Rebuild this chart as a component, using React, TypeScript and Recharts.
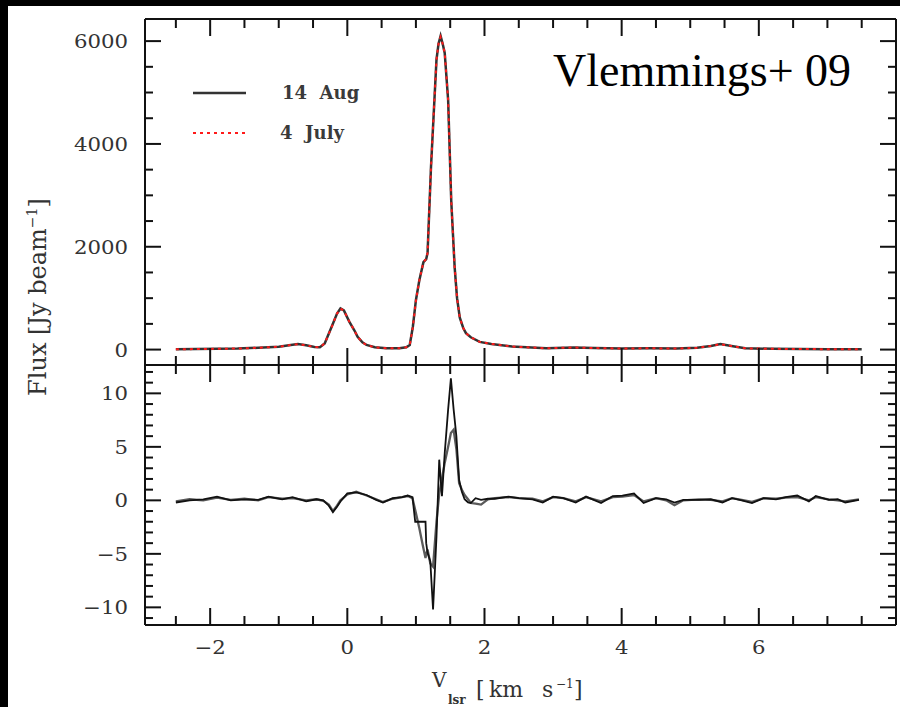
import React from "react";
import { LineChart, Line, XAxis, YAxis, Legend } from "recharts";

// velocity grid for the spectra (km/s)
const vUp = [
  -2.5, -2.2, -1.9, -1.6, -1.3, -1.0, -0.85, -0.72, -0.6, -0.48,
  -0.4, -0.33, -0.23, -0.15, -0.1, -0.05, 0.03, 0.1, 0.15, 0.22,
  0.28, 0.4, 0.57, 0.76, 0.86, 0.91, 0.955, 1.0, 1.05, 1.11,
  1.15, 1.17, 1.22, 1.26, 1.3, 1.33, 1.36, 1.39, 1.42, 1.47,
  1.515, 1.565, 1.6, 1.64, 1.69, 1.73, 1.8, 1.93, 2.1, 2.4,
  2.9, 3.3, 3.6, 4.0, 4.4, 4.8, 5.1, 5.3, 5.44, 5.6,
  5.8, 6.2, 6.6, 7.0, 7.5,
];
const aug14 = [
  5, 10, 15, 20, 35, 55, 85, 110, 85, 50,
  45, 120, 440, 700, 800, 760, 540, 380, 250, 140,
  90, 45, 25, 25, 45, 90, 440, 960, 1350, 1700,
  1760, 1880, 3550, 4600, 5640, 5950, 6100, 5950, 5770, 4850,
  2900, 1600, 1000, 620, 420, 320, 240, 150, 110, 60,
  25, 40, 30, 20, 25, 20, 35, 70, 110, 70,
  25, 15, 10, 8, 5,
];
const july4 = [
  5, 10, 15, 20, 35, 55, 85, 105, 85, 50,
  45, 120, 430, 700, 795, 760, 540, 380, 250, 140,
  90, 45, 25, 25, 45, 90, 430, 950, 1350, 1700,
  1760, 1880, 3550, 4600, 5640, 5950, 6080, 5950, 5770, 4850,
  2900, 1600, 1000, 620, 420, 320, 240, 150, 110, 60,
  25, 40, 30, 20, 25, 20, 35, 70, 105, 70,
  25, 15, 10, 8, 5,
];

const vLow = [
  -2.5, -2.3, -2.1, -1.9, -1.7, -1.5, -1.3, -1.15, -0.95, -0.8,
  -0.6, -0.45, -0.35, -0.27, -0.21, -0.15, -0.1, 0.0, 0.13, 0.28,
  0.42, 0.52, 0.66, 0.8, 0.88, 0.95, 0.99, 1.05, 1.1, 1.14,
  1.15, 1.17, 1.21, 1.25, 1.3, 1.34, 1.38, 1.42, 1.47, 1.51,
  1.55, 1.59, 1.63, 1.67, 1.71, 1.76, 1.8, 1.87, 1.95, 2.05,
  2.15, 2.35, 2.5, 2.7, 2.85, 3.0, 3.15, 3.33, 3.48, 3.7,
  3.87, 4.01, 4.18, 4.32, 4.5, 4.65, 4.77, 4.9, 5.13, 5.3,
  5.47, 5.61, 5.75, 5.9, 6.07, 6.25, 6.39, 6.56, 6.73, 6.83,
  7.02, 7.15, 7.26, 7.46,
];
const diffBlack = [
  -0.2, 0.0, 0.1, 0.35, 0.0, 0.1, 0.05, 0.35, 0.1, 0.3,
  -0.1, 0.1, 0.0, -0.5, -1.1, -0.6, -0.1, 0.65, 0.75, 0.5,
  0.05, -0.2, 0.2, 0.3, 0.45, 0.3, -2.0, -2.0, -2.0, -2.0,
  -4.0, -4.9, -5.7, -10.2, -3.4, 3.8, 0.4, 4.4, 8.5, 11.4,
  8.5, 6.0, 1.9, 0.8, 0.1, -0.2, -0.25, 0.2, 0.05, 0.15,
  0.15, 0.35, 0.2, 0.1, -0.2, 0.35, 0.2, -0.2, 0.35, -0.25,
  0.4, 0.45, 0.65, -0.25, 0.2, 0.1, -0.2, 0.05, 0.05, 0.1,
  -0.2, 0.2, 0.0, -0.25, 0.2, 0.1, 0.3, 0.45, -0.1, 0.4,
  0.05, 0.1, -0.2, 0.05,
];
const diffGrey = [
  -0.1, 0.1, 0.0, 0.25, 0.05, 0.15, 0.0, 0.3, 0.15, 0.2,
  0.0, 0.1, -0.05, -0.4, -1.0, -0.5, 0.0, 0.55, 0.8, 0.45,
  0.1, -0.15, 0.15, 0.3, 0.4, 0.2, -0.9, -2.6, -4.2, -5.4,
  -5.0, -4.6, -5.9, -6.2, -2.0, 0.6, 2.0, 3.5, 5.0, 6.3,
  6.6, 4.8, 1.6, 1.0, 0.5, 0.1, -0.25, -0.3, -0.4, 0.1,
  0.2, 0.3, 0.2, 0.15, -0.1, 0.3, 0.2, -0.1, 0.3, -0.1,
  0.3, 0.35, 0.5, -0.1, 0.2, 0.0, -0.45, 0.0, 0.1, 0.05,
  -0.1, 0.2, 0.05, -0.15, 0.2, 0.15, 0.25, 0.3, 0.0, 0.3,
  0.1, 0.0, -0.1, 0.1,
];

// axis ticks
const xTicks = [-2.5, -2, -1.5, -1, -0.5, 0, 0.5, 1, 1.5, 2, 2.5, 3, 3.5, 4, 4.5, 5, 5.5, 6, 6.5, 7, 7.5];
const xMajor = [-2, 0, 2, 4, 6];
const upTicks = [0, 500, 1000, 1500, 2000, 2500, 3000, 3500, 4000, 4500, 5000, 5500, 6000];
const upMajor = [0, 2000, 4000, 6000];
const lowTicks = [-11, -10, -9, -8, -7, -6, -5, -4, -3, -2, -1, 0, 1, 2, 3, 4, 5, 6, 7, 8, 9, 10, 11, 12];
const lowMajor = [-10, -5, 0, 5, 10];

const X_DOMAIN = [-2.95, 8];
const UP_DOMAIN = [-300, 6430];
const LOW_DOMAIN = [-11.65, 12.65];

const upData = vUp.map((v, i) => ({ v, aug: aug14[i], jul: july4[i] }));
const lowData = vLow.map((v, i) => ({ v, a: diffBlack[i], b: diffGrey[i] }));

const INK = "#111";
const TEXT = "#333";
const SERIF = '"DejaVu Serif", serif';

const fmt = (v: number) => (v < 0 ? "\u2212" + Math.abs(v) : String(v));

// inward ticks; dir is the direction the tick points into the frame
const xTick = (major: number[], dir: number, label: boolean) => (p: any) => {
  const v = p.payload.value;
  const big = major.includes(v);
  return (
    <g>
      <line x1={p.x} x2={p.x} y1={p.y} y2={p.y + dir * (big ? 17 : 9)} stroke={INK} strokeWidth={2} />
      {label && big && (
        <text transform={`translate(${p.x},${p.y + 29}) scale(1.12,1)`} textAnchor="middle"
          fontFamily={SERIF} fontSize={19} fill={TEXT}>{fmt(v)}</text>
      )}
    </g>
  );
};

const yTick = (major: number[], dir: number, label: boolean) => (p: any) => {
  const v = p.payload.value;
  const big = major.includes(v);
  return (
    <g>
      <line x1={p.x} x2={p.x + dir * (big ? 16 : 8)} y1={p.y} y2={p.y} stroke={INK} strokeWidth={2} />
      {label && big && (
        <text transform={`translate(${p.x - 17},${p.y + 7}) scale(1.12,1)`} textAnchor="end"
          fontFamily={SERIF} fontSize={19} fill={TEXT}>{fmt(v)}</text>
      )}
    </g>
  );
};

const axisLine = { stroke: INK, strokeWidth: 2 };

const renderLegend = (props: any) => (
  <svg width={200} height={72}>
    {(props.payload || []).map((e: any, i: number) => {
      const y = 18 + i * 40;
      return (
        <g key={e.value}>
          <line x1={8} x2={61} y1={y} y2={y} stroke={e.color}
            strokeWidth={i === 0 ? 2.5 : 2} strokeDasharray={e.payload?.strokeDasharray} />
          <text x={i === 0 ? 97 : 95} y={y + 6} fontFamily={SERIF} fontSize={18}
            fontWeight="bold" fill="#3a3a3a">{e.value.replace(" ", "\u00a0\u00a0")}</text>
        </g>
      );
    })}
  </svg>
);

const xTitle = () => (
  <text fontFamily={SERIF} fill={TEXT}>
    <tspan x={432} y={687} fontSize={20}>V</tspan>
    <tspan x={448} y={704} fontSize={12} fontWeight="bold">lsr</tspan>
    <tspan x={476} y={697} fontSize={22}>[</tspan>
    <tspan x={489} y={697} fontSize={22}>km</tspan>
    <tspan x={542} y={697} fontSize={22}>s</tspan>
    <tspan x={556} y={688} fontSize={12}>{"\u22121"}</tspan>
    <tspan x={574} y={697} fontSize={22}>]</tspan>
  </text>
);

const yTitle = () => (
  <text transform="translate(46,297) rotate(-90)" textAnchor="middle" fontFamily={SERIF}
    fontSize={24} fill={TEXT}>
    Flux [Jy beam<tspan fontSize={14} dy={-9}>{"\u22121"}</tspan><tspan dy={9}>]</tspan>
  </text>
);

export default function App() {
  return (
    <div style={{ position: "fixed", left: 0, top: 0, width: 900, height: 707, background: "#000", overflow: "hidden" }}>
      <div style={{ position: "absolute", left: 8, top: 6, width: 892, height: 701, background: "#fff" }} />

      {/* upper panel: spectra */}
      <div style={{ position: "absolute", left: 0, top: 0 }}>
        <LineChart width={900} height={380} data={upData} margin={{ top: 0, right: 0, bottom: 0, left: 0 }}>
          <XAxis xAxisId="b" dataKey="v" type="number" orientation="bottom" domain={X_DOMAIN} allowDataOverflow
            ticks={xTicks} interval={0} height={15} tickSize={0} tickMargin={0} tickLine={false}
            axisLine={axisLine} tick={xTick(xMajor, -1, false)} />
          <XAxis xAxisId="t" dataKey="v" type="number" orientation="top" domain={X_DOMAIN} allowDataOverflow
            ticks={xTicks} interval={0} height={19} tickSize={0} tickMargin={0} tickLine={false}
            axisLine={axisLine} tick={xTick(xMajor, 1, false)} />
          <YAxis yAxisId="l" type="number" domain={UP_DOMAIN} allowDataOverflow ticks={upTicks} interval={0}
            width={145} tickSize={0} tickMargin={0} tickLine={false} axisLine={axisLine}
            tick={yTick(upMajor, 1, true)} />
          <YAxis yAxisId="r" type="number" orientation="right" domain={UP_DOMAIN} allowDataOverflow ticks={upTicks}
            interval={0} width={4} tickSize={0} tickMargin={0} tickLine={false} axisLine={axisLine}
            tick={yTick(upMajor, -1, false)} />
          <Line xAxisId="b" yAxisId="l" type="linear" dataKey="aug" name="14 Aug" stroke="#333"
            strokeWidth={2.5} dot={false} isAnimationActive={false} />
          <Line xAxisId="b" yAxisId="l" type="linear" dataKey="jul" name="4 July" stroke="#ff1a1a"
            strokeWidth={2} strokeDasharray="3 4" dot={false} isAnimationActive={false} />
          <Legend layout="vertical" align="center" verticalAlign="middle" content={renderLegend}
            wrapperStyle={{ left: 185, top: 75, width: 200, height: 72 }} />
        </LineChart>
      </div>

      {/* lower panel: differences */}
      <div style={{ position: "absolute", left: 0, top: 0 }}>
        <LineChart width={900} height={707} data={lowData} margin={{ top: 0, right: 0, bottom: 0, left: 0 }}>
          <XAxis xAxisId="b" dataKey="v" type="number" orientation="bottom" domain={X_DOMAIN} allowDataOverflow
            ticks={xTicks} interval={0} height={82} tickSize={0} tickMargin={0} tickLine={false}
            axisLine={axisLine} tick={xTick(xMajor, -1, true)} label={xTitle} />
          <XAxis xAxisId="t" dataKey="v" type="number" orientation="top" domain={X_DOMAIN} allowDataOverflow
            ticks={xTicks} interval={0} height={365} tickSize={0} tickMargin={0} tickLine={false}
            axisLine={axisLine} tick={xTick(xMajor, 1, false)} />
          <YAxis yAxisId="l" type="number" domain={LOW_DOMAIN} allowDataOverflow ticks={lowTicks} interval={0}
            width={145} tickSize={0} tickMargin={0} tickLine={false} axisLine={axisLine}
            tick={yTick(lowMajor, 1, true)} label={yTitle} />
          <YAxis yAxisId="r" type="number" orientation="right" domain={LOW_DOMAIN} allowDataOverflow ticks={lowTicks}
            interval={0} width={4} tickSize={0} tickMargin={0} tickLine={false} axisLine={axisLine}
            tick={yTick(lowMajor, -1, false)} />
          <Line xAxisId="b" yAxisId="l" type="linear" dataKey="b" stroke="#5a5a5a" strokeWidth={2.3}
            dot={false} isAnimationActive={false} />
          <Line xAxisId="b" yAxisId="l" type="linear" dataKey="a" stroke="#111" strokeWidth={1.8}
            dot={false} isAnimationActive={false} />
        </LineChart>
      </div>

      <div style={{ position: "absolute", left: 553, top: 48, fontFamily: '"Liberation Serif", serif',
        fontSize: 46, lineHeight: "46px", color: "#000", whiteSpace: "nowrap" }}>
        Vlemmings+ 09
      </div>
    </div>
  );
}
